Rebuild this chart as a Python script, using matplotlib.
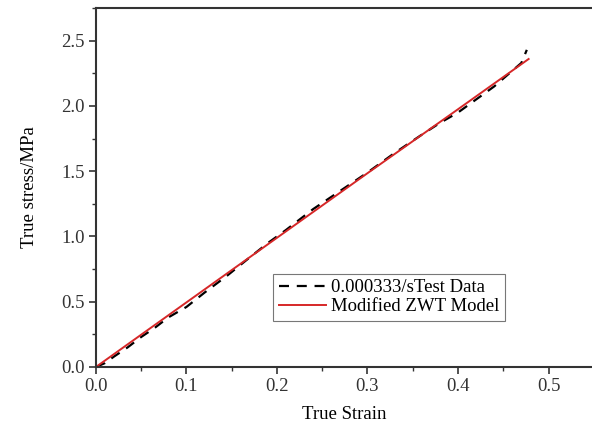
import matplotlib
matplotlib.use("Agg")
import matplotlib.pyplot as plt
from matplotlib.ticker import MultipleLocator

# test data (dashed) and model curve (red)
strain_test = [0, 0.01, 0.02, 0.035, 0.05, 0.065, 0.08, 0.10, 0.12, 0.145, 0.17, 0.19,
               0.21, 0.24, 0.27, 0.30, 0.33, 0.36, 0.38, 0.40, 0.42, 0.44, 0.46, 0.47, 0.476]
stress_test = [0, 0.03, 0.08, 0.15, 0.23, 0.30, 0.38, 0.46, 0.57, 0.70, 0.84, 0.95,
               1.05, 1.21, 1.35, 1.49, 1.64, 1.78, 1.87, 1.95, 2.05, 2.15, 2.27, 2.33, 2.43]
strain_model = [0, 0.1, 0.2, 0.3, 0.4, 0.478]
stress_model = [0, 0.495, 0.99, 1.485, 1.975, 2.36]

plt.rcParams["font.family"] = ["Liberation Serif", "DejaVu Serif"]
FS = 13.5

fig = plt.figure(figsize=(5.92, 4.26), dpi=100)
ax = fig.add_axes([0.162, 0.1385, 0.838, 0.8425])

ax.plot(strain_test, stress_test, color="black", linestyle=(0, (4.5, 3.5)), linewidth=1.6,
        label="0.000333/sTest Data")
ax.plot(strain_model, stress_model, color="#d62728", linewidth=1.4, label="Modified ZWT Model")

ax.set_xlim(0, 0.548)
ax.set_ylim(0, 2.75)
ax.xaxis.set_major_locator(MultipleLocator(0.1))
ax.xaxis.set_minor_locator(MultipleLocator(0.05))
ax.yaxis.set_major_locator(MultipleLocator(0.5))
ax.yaxis.set_minor_locator(MultipleLocator(0.25))
ax.xaxis.set_major_formatter(lambda v, p: f"{v:.1f}")
ax.yaxis.set_major_formatter(lambda v, p: f"{v:.1f}")
ax.tick_params(which="major", direction="out", length=5, width=1.2, labelsize=FS,
               colors="#333333", pad=3)
ax.tick_params(which="minor", direction="out", length=3, width=1.0, colors="#333333")

ax.spines["right"].set_visible(False)
for s in ("left", "bottom", "top"):
    ax.spines[s].set_linewidth(1.5)
    ax.spines[s].set_color("#333333")

ax.set_xlabel("True Strain", fontsize=FS, labelpad=8)
ax.set_ylabel("True stress/MPa", fontsize=FS, labelpad=17)

leg = ax.legend(loc="lower left", bbox_to_anchor=(0.357, 0.128), borderaxespad=0,
                fontsize=FS, frameon=True, fancybox=False, handlelength=2.5,
                handletextpad=0.3, borderpad=0.3, labelspacing=0.1)
leg.get_frame().set_edgecolor("#555555")
leg.get_frame().set_linewidth(0.8)

fig.savefig("out.png", dpi=100)
